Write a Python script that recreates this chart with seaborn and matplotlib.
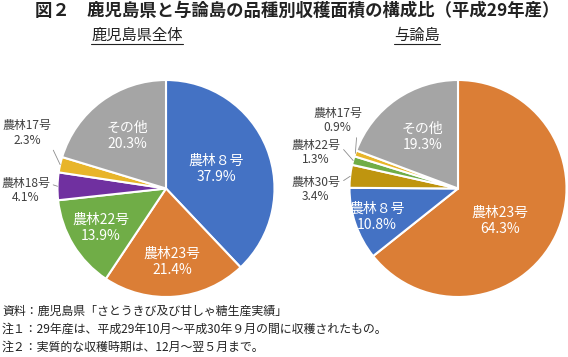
import numpy as np
import matplotlib
matplotlib.use('Agg')
import matplotlib.pyplot as plt
from matplotlib.lines import Line2D
import seaborn as sns

# データ（12時から時計回り）
KAGO_LABELS = ['農林８号', '農林23号', '農林22号', '農林18号', '農林17号', 'その他']
KAGO_VALUES = [37.9, 21.4, 13.9, 4.1, 2.3, 20.3]
YORON_LABELS = ['農林23号', '農林８号', '農林30号', '農林22号', '農林17号', 'その他']
YORON_VALUES = [64.3, 10.8, 3.4, 1.3, 0.9, 19.3]

TITLE = '図２　鹿児島県と与論島の品種別収穫面積の構成比（平成29年産）'
SUBTITLES = ['鹿児島県全体', '与論島']
NOTES = ['資料：鹿児島県「さとうきび及び甘しゃ糖生産実績」',
         '注１：29年産は、平成29年10月～平成30年９月の間に収穫されたもの。',
         '注２：実質的な収穫時期は、12月～翌５月まで。']

COLORS = {
    '農林８号': '#4472C4', '農林23号': '#DB7E36', '農林22号': '#70AD47',
    '農林18号': '#7030A0', '農林17号': '#E8B52A', '農林30号': '#BF950F',
    'その他': '#A5A5A5',
}

sns.set_theme(style='white')
plt.rcParams['font.family'] = ['Noto Sans CJK JP', 'DejaVu Sans']

W, H = 568, 357
fig = plt.figure(figsize=(W / 100, H / 100), dpi=100)


def px_axes(cx, cy, r):
    return fig.add_axes([(cx - r) / W, (H - cy - r) / H, 2 * r / W, 2 * r / H])


# ラベル配置: inside -> 半径, outside -> (テキスト位置, relpos)
KAGO_STYLE = {
    '農林８号': ('in', 0.50), '農林23号': ('in', 0.68), '農林22号': ('in', 0.70),
    '農林18号': ('out', (-1.295, -0.02), (1.0, 0.75)),
    '農林17号': ('out', (-1.28, 0.51), (0.95, 0.2)),
    'その他': ('in', 0.60),
}
YORON_STYLE = {
    '農林23号': ('xy', (0.39, -0.30)), '農林８号': ('in', 0.79),
    '農林30号': ('out', (-1.31, -0.01), (1.0, 0.75)),
    '農林22号': ('out', (-1.31, 0.33), (1.0, 0.75)),
    '農林17号': ('out', (-1.11, 0.625), (0.9, 0.15)),
    'その他': ('in', 0.58),
}


def draw_pie(ax, labels, values, style):
    colors = sns.color_palette([COLORS[l] for l in labels])
    wedges, _ = ax.pie(values, colors=colors, startangle=90, counterclock=False,
                       radius=1.0, wedgeprops=dict(edgecolor='white', linewidth=1.5))
    for w, lab, v in zip(wedges, labels, values):
        theta = np.deg2rad((w.theta1 + w.theta2) / 2)
        txt = f'{lab}\n{v:.1f}%'
        st = style[lab]
        if st[0] in ('in', 'xy'):
            if st[0] == 'in':
                x, y = st[1] * np.cos(theta), st[1] * np.sin(theta)
            else:
                x, y = st[1]
            ax.text(x, y, txt, ha='center', va='center', color='white',
                    fontsize=10, linespacing=1.2)
        else:
            ex, ey = np.cos(theta), np.sin(theta)
            ax.annotate(txt, xy=(ex, ey), xytext=st[1], ha='center', va='center',
                        color='#404040', fontsize=8.6, linespacing=1.15,
                        arrowprops=dict(arrowstyle='-', color='#8C8C8C', lw=0.6,
                                        shrinkA=0, shrinkB=0, relpos=st[2]))
    ax.set_xlim(-1, 1)
    ax.set_ylim(-1, 1)
    ax.set_aspect('equal')
    ax.axis('off')


ax1 = px_axes(166, 188.5, 108.5)
draw_pie(ax1, KAGO_LABELS, KAGO_VALUES, KAGO_STYLE)
ax2 = px_axes(458, 188.5, 108.5)
draw_pie(ax2, YORON_LABELS, YORON_VALUES, YORON_STYLE)

# タイトル
fig.text(297 / W, 1 - 11 / H, TITLE, ha='center', va='center', fontsize=12.5,
         fontweight='bold', color='#222222')

# サブタイトル（下線付き）
sub_texts = []
for sx, s in zip([137, 417], SUBTITLES):
    sub_texts.append(fig.text(sx / W, 1 - 35 / H, s, ha='center', va='center',
                              fontsize=11, color='#222222'))
fig.canvas.draw()
renderer = fig.canvas.get_renderer()
for t in sub_texts:
    bb = t.get_window_extent(renderer)
    yline = (H - 43.5) / H
    fig.add_artist(Line2D([bb.x0 / W, bb.x1 / W], [yline, yline],
                          transform=fig.transFigure, color='#222222', lw=0.8))

# 注記
for ny, n in zip([311, 329, 347], NOTES):
    fig.text(2 / W, 1 - ny / H, n, ha='left', va='center', fontsize=8.6,
             color='#222222')

plt.savefig('out.png', dpi=100)
